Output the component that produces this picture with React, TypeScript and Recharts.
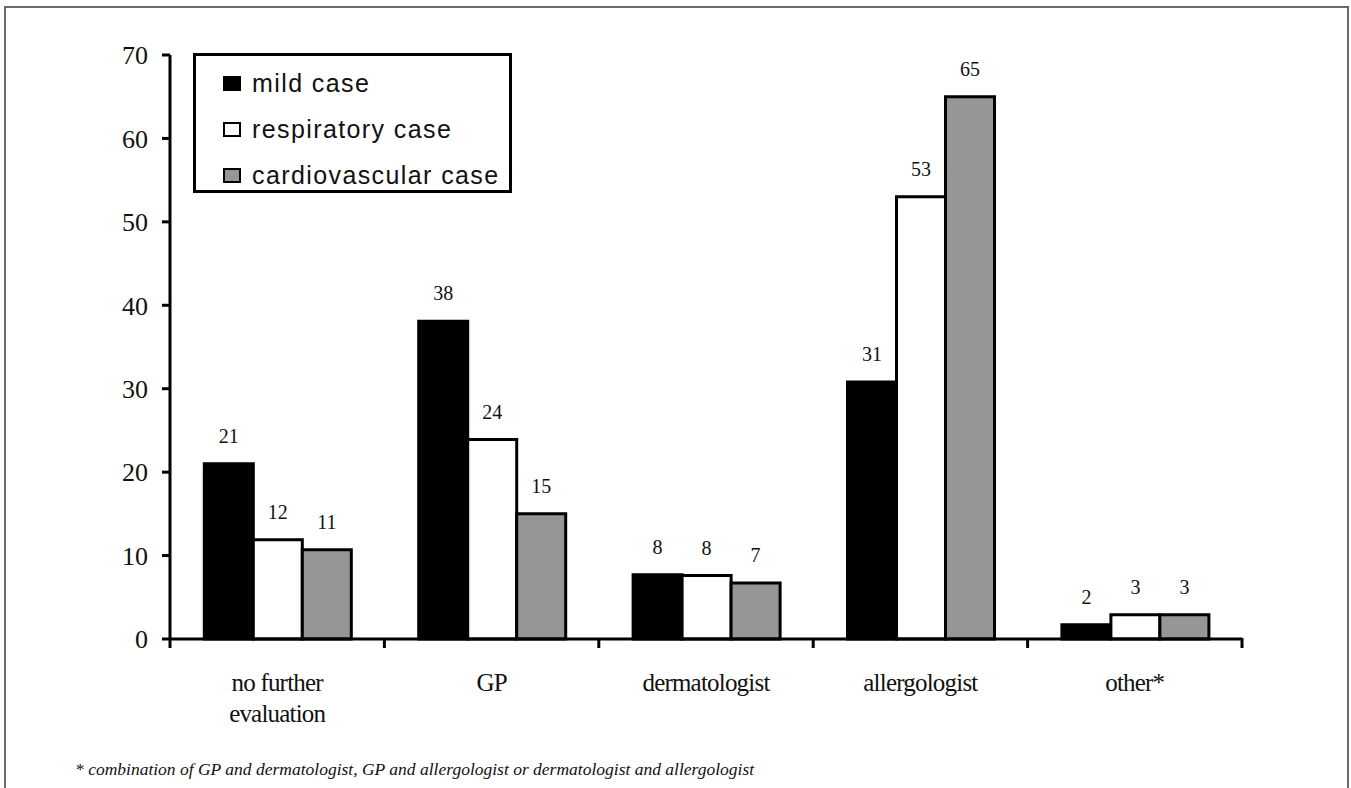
import React from 'react';
import { BarChart, Bar, XAxis, YAxis, Legend, LabelList } from 'recharts';

const categories = ['no further\nevaluation', 'GP', 'dermatologist', 'allergologist', 'other*'];
const mildCase = [21, 38.1, 7.7, 30.8, 1.7];
const respiratoryCase = [11.9, 23.9, 7.6, 53, 2.9];
const cardiovascularCase = [10.7, 15, 6.7, 65, 2.9];
const mildLabels = [21, 38, 8, 31, 2];
const respiratoryLabels = [12, 24, 8, 53, 3];
const cardiovascularLabels = [11, 15, 7, 65, 3];
const yTicks = [0, 10, 20, 30, 40, 50, 60, 70];
const seriesNames = ['mild case', 'respiratory case', 'cardiovascular case'];
const seriesColors = ['#000000', '#ffffff', '#969696'];
const footnote = '* combination of GP and dermatologist, GP and allergologist or dermatologist and allergologist';

const data = categories.map((c, i) => ({
  category: c,
  mild: mildCase[i],
  resp: respiratoryCase[i],
  cardio: cardiovascularCase[i],
  mildLabel: mildLabels[i],
  respLabel: respiratoryLabels[i],
  cardioLabel: cardiovascularLabels[i],
}));

const SERIF = '"Liberation Serif", "Times New Roman", serif';
const SANS = '"Liberation Sans", Arial, sans-serif';

const XTick = (props: any) => {
  const { x, y, payload, index, visibleTicksCount } = props;
  const off = payload && typeof payload.offset === 'number' ? payload.offset : 0;
  const lines = String(payload.value).split('\n');
  return (
    <g>
      <line x1={x - off} x2={x - off} y1={y - 1} y2={y + 9} stroke="#000" strokeWidth={3} />
      {index === visibleTicksCount - 1 && (
        <line x1={x + off} x2={x + off} y1={y - 1} y2={y + 9} stroke="#000" strokeWidth={3} />
      )}
      <text x={x} y={y + 52} textAnchor="middle" fontFamily={SERIF} fontSize={25} fill="#111" letterSpacing={-0.8}>
        {lines.map((l, i) => (
          <tspan key={i} x={x} dy={i === 0 ? 0 : 31}>
            {l}
          </tspan>
        ))}
      </text>
    </g>
  );
};

const LegendContent = (props: any) => {
  const items = [...(props.payload || [])].sort(
    (a: any, b: any) => seriesNames.indexOf(a.value) - seriesNames.indexOf(b.value)
  );
  return (
    <div
      style={{
        width: 319,
        height: 140,
        border: '3px solid #000',
        boxSizing: 'border-box',
        background: '#fff',
        position: 'relative',
      }}
    >
      {items.map((p: any, i: number) => (
        <div
          key={i}
          style={{
            position: 'absolute',
            left: 27,
            top: 12 + i * 46,
            height: 30,
            display: 'flex',
            alignItems: 'center',
          }}
        >
          <div
            style={{
              width: 18,
              height: 15,
              background: p.color,
              border: '2px solid #000',
              boxSizing: 'border-box',
              marginRight: 11,
            }}
          />
          <span
            style={{ fontFamily: SANS, fontSize: 25, letterSpacing: 1.4, color: '#111', whiteSpace: 'nowrap' }}
          >
            {p.value}
          </span>
        </div>
      ))}
    </div>
  );
};

const labelStyle = { fontFamily: SERIF, fontSize: 20, fill: '#111' };

export default function App() {
  return (
    <div style={{ position: 'absolute', left: 0, top: 0, width: 1351, height: 788, background: '#fff', overflow: 'hidden' }}>
      <div
        style={{
          position: 'absolute',
          left: 4,
          top: 6,
          width: 1345,
          height: 800,
          border: '2px solid #6a6a6a',
          boxSizing: 'border-box',
        }}
      />
      <div style={{ position: 'absolute', left: 0, top: 0 }}>
        <BarChart
          width={1351}
          height={788}
          data={data}
          margin={{ top: 55, right: 109, bottom: 119, left: 110 }}
          barGap={0}
          barCategoryGap="16%"
        >
          <XAxis
            dataKey="category"
            interval={0}
            tickLine={false}
            tickSize={0}
            tickMargin={0}
            height={30}
            axisLine={{ stroke: '#000', strokeWidth: 3 }}
            tick={<XTick />}
          />
          <YAxis
            domain={[0, 70]}
            ticks={yTicks}
            width={60}
            tickSize={8}
            tickMargin={14}
            axisLine={{ stroke: '#000', strokeWidth: 3 }}
            tickLine={{ stroke: '#000', strokeWidth: 3 }}
            tick={{ fontFamily: SERIF, fontSize: 26, fill: '#111' }}
          />
          <Legend
            layout="vertical"
            align="center"
            verticalAlign="middle"
            wrapperStyle={{ left: 193, top: 53, width: 319, height: 140 }}
            content={<LegendContent />}
          />
          <Bar dataKey="mild" name={seriesNames[0]} fill={seriesColors[0]} stroke="#000" strokeWidth={3} isAnimationActive={false}>
            <LabelList dataKey="mildLabel" position="top" offset={21} style={labelStyle} />
          </Bar>
          <Bar dataKey="resp" name={seriesNames[1]} fill={seriesColors[1]} stroke="#000" strokeWidth={3} isAnimationActive={false}>
            <LabelList dataKey="respLabel" position="top" offset={21} style={labelStyle} />
          </Bar>
          <Bar dataKey="cardio" name={seriesNames[2]} fill={seriesColors[2]} stroke="#000" strokeWidth={3} isAnimationActive={false}>
            <LabelList dataKey="cardioLabel" position="top" offset={21} style={labelStyle} />
          </Bar>
        </BarChart>
      </div>
      <div
        style={{
          position: 'absolute',
          left: 75,
          top: 759,
          fontFamily: SERIF,
          fontStyle: 'italic',
          fontSize: 17.5,
          lineHeight: '20px',
          color: '#111',
          whiteSpace: 'nowrap',
        }}
      >
        {footnote}
      </div>
    </div>
  );
}
